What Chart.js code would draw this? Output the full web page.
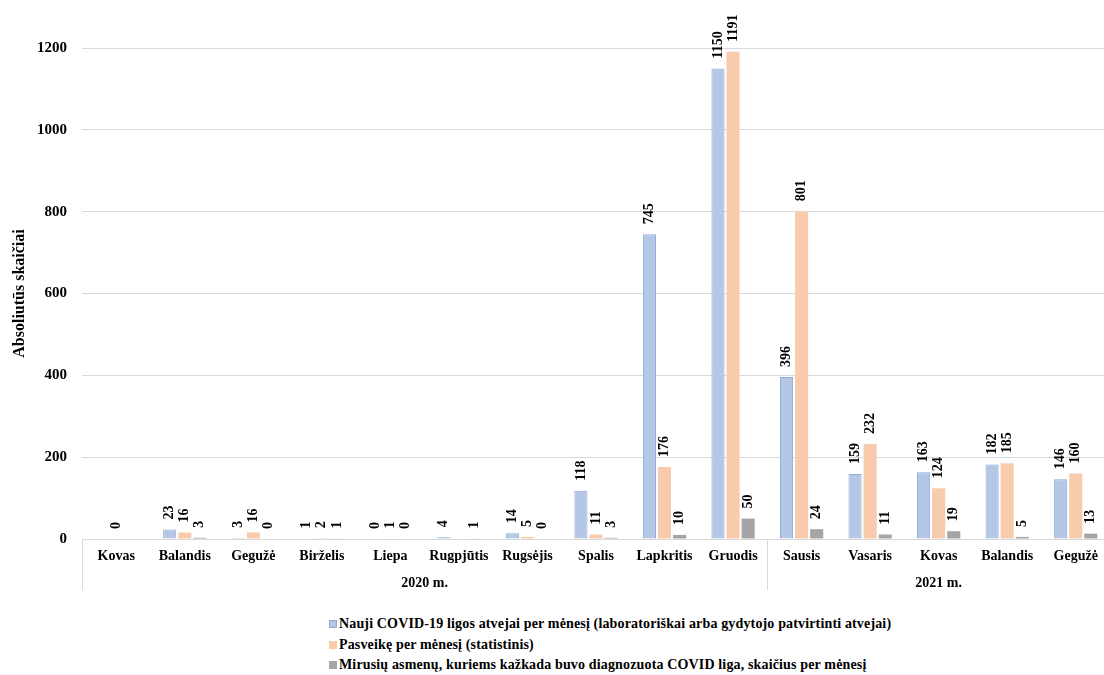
<!DOCTYPE html>
<html>
<head>
<meta charset="utf-8">
<script src="https://cdn.jsdelivr.net/npm/chart.js@4/dist/chart.umd.min.js"></script>
<style>
  body { margin: 0; background: #fff; }
  #wrap { position: relative; width: 1104px; height: 675px; overflow: hidden; }
  #grafikas { position: absolute; left: 0; top: 0; }
  #legenda {
    position: absolute; left: 329px; top: 614px;
    font: bold 14px "Liberation Serif", "Times New Roman", serif; color: #000;
    letter-spacing: 0.15px;
  }
  #legenda div { height: 20.5px; line-height: 20.5px; white-space: nowrap; }
  #legenda span {
    display: inline-block; width: 8px; height: 8px; margin-right: 2px;
    box-sizing: border-box; vertical-align: 0px;
  }
</style>
</head>
<body>
<div id="wrap">
  <canvas id="grafikas" width="1110" height="600"></canvas>
  <div id="legenda"></div>
</div>
<script>
const menesiai = ['Kovas', 'Balandis', 'Gegužė', 'Birželis', 'Liepa', 'Rugpjūtis', 'Rugsėjis', 'Spalis', 'Lapkritis', 'Gruodis',
                  'Sausis', 'Vasaris', 'Kovas', 'Balandis', 'Gegužė'];
const metai = ['2020 m.', '2021 m.'];
const menesiuSkaicius = [10, 5]; // kiek mėnesių kiekvienuose metuose

const naujiAtvejai = [null, 23, 3, 1, 0, 4, 14, 118, 745, 1150, 396, 159, 163, 182, 146];
const pasveike = [0, 16, 16, 2, 1, null, 5, 11, 176, 1191, 801, 232, 124, 185, 160];
const mirusieji = [null, 3, 0, 1, 0, 1, 0, 3, 10, 50, 24, 11, 19, 5, 13];

const yTicks = [0, 200, 400, 600, 800, 1000, 1200];

const serif = '"Liberation Serif", "Times New Roman", serif';

// Reikšmės virš stulpelių (pasuktos 90°)
const reiksmiuPlugin = {
    id: 'reiksmes',
    afterDatasetsDraw(chart) {
        const ctx = chart.ctx;
        ctx.save();
        ctx.font = 'bold 14px ' + serif;
        ctx.fillStyle = '#000';
        ctx.textAlign = 'left';
        ctx.textBaseline = 'middle';
        chart.data.datasets.forEach((ds, i) => {
            const meta = chart.getDatasetMeta(i);
            meta.data.forEach((el, j) => {
                const v = ds.data[j];
                if (v === null || v === undefined) return;
                ctx.save();
                ctx.translate(el.x, el.y - 10);
                ctx.rotate(-Math.PI / 2);
                ctx.fillText(String(v), 0, 0);
                ctx.restore();
            });
        });
        ctx.restore();
    }
};

// Metų grupės po mėnesiais ir skiriamosios linijos
const metuPlugin = {
    id: 'metai',
    afterDraw(chart) {
        const x = chart.scales.x;
        const ctx = chart.ctx;
        const plotis = (x.right - x.left) / menesiai.length;
        const apacia = chart.chartArea.bottom;
        ctx.save();
        ctx.strokeStyle = '#d9d9d9';
        ctx.lineWidth = 1;
        ctx.font = 'bold 14px ' + serif;
        ctx.fillStyle = '#000';
        ctx.textAlign = 'center';
        ctx.textBaseline = 'middle';
        let pradzia = 0;
        metai.forEach((m, g) => {
            const kaire = x.getPixelForValue(pradzia) - plotis / 2;
            const galas = pradzia + menesiuSkaicius[g] - 1;
            const desine = x.getPixelForValue(galas) + plotis / 2;
            ctx.beginPath();
            ctx.moveTo(Math.round(kaire) + 0.5, apacia);
            ctx.lineTo(Math.round(kaire) + 0.5, apacia + 51);
            ctx.moveTo(Math.round(desine) + 0.5, apacia);
            ctx.lineTo(Math.round(desine) + 0.5, apacia + 51);
            ctx.stroke();
            ctx.fillText(m, (kaire + desine) / 2, apacia + 44);
            pradzia += menesiuSkaicius[g];
        });
        ctx.restore();
    }
};

const duomenys = {
    labels: menesiai,
    datasets: [
        {
            label: 'Nauji COVID-19 ligos atvejai per mėnesį (laboratoriškai arba gydytojo patvirtinti atvejai)',
            data: naujiAtvejai,
            backgroundColor: '#b4c7e7',
            borderColor: '#8faadc',
            borderWidth: 1,
            borderSkipped: false
        },
        {
            label: 'Pasveikę per mėnesį (statistinis)',
            data: pasveike,
            backgroundColor: '#f8cbad'
        },
        {
            label: 'Mirusių asmenų, kuriems kažkada buvo diagnozuota COVID liga, skaičius per mėnesį',
            data: mirusieji,
            backgroundColor: '#a5a5a5'
        }
    ]
};

new Chart(document.getElementById('grafikas'), {
    type: 'bar',
    data: duomenys,
    options: {
        responsive: false,
        animation: false,
        devicePixelRatio: 1,
        categoryPercentage: 0.66,
        barPercentage: 0.87,
        layout: { padding: { top: 48, left: 0, right: 0, bottom: 0 } },
        scales: {
            x: {
                grid: { display: false, drawTicks: false },
                border: { color: '#d9d9d9' },
                ticks: {
                    color: '#000',
                    font: { family: serif, size: 14, weight: 'bold' },
                    padding: 9,
                    maxRotation: 0,
                    autoSkip: false
                },
                afterFit: (s) => { s.height = 61; }
            },
            y: {
                min: 0,
                max: 1200,
                afterBuildTicks: (s) => { s.ticks = yTicks.map(v => ({ value: v })); },
                grid: { color: '#d9d9d9', drawTicks: false },
                border: { display: false },
                ticks: {
                    color: '#000',
                    font: { family: serif, size: 15, weight: 'bold' },
                    padding: 15,
                    callback: (v) => String(v)
                },
                title: {
                    display: true,
                    text: 'Absoliutūs skaičiai',
                    color: '#000',
                    font: { family: serif, size: 16, weight: 'bold' },
                    padding: { top: 10, bottom: 0 }
                },
                afterFit: (s) => { s.width = 82; }
            }
        },
        plugins: {
            legend: { display: false },
            tooltip: { enabled: false }
        }
    },
    plugins: [reiksmiuPlugin, metuPlugin]
});

// Legenda po grafiku
const legenda = document.getElementById('legenda');
duomenys.datasets.forEach(ds => {
    const eil = document.createElement('div');
    const kv = document.createElement('span');
    kv.style.background = ds.backgroundColor;
    if (ds.borderColor) kv.style.border = '1px solid ' + ds.borderColor;
    eil.appendChild(kv);
    eil.appendChild(document.createTextNode(ds.label));
    legenda.appendChild(eil);
});
</script>
</body>
</html>
